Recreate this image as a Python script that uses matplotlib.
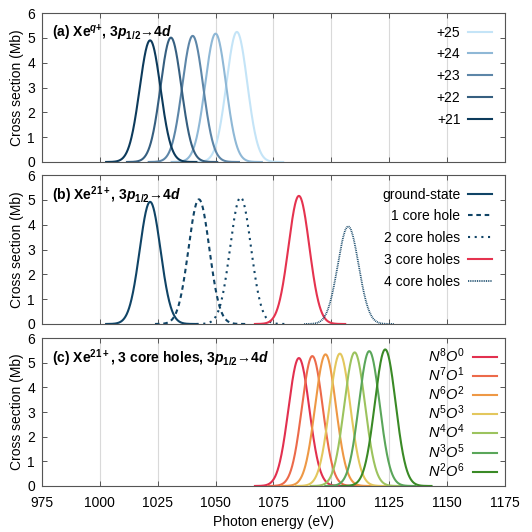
import numpy as np
import matplotlib
matplotlib.use("Agg")
import matplotlib.pyplot as plt

plt.rcParams['font.family'] = ['Liberation Sans', 'DejaVu Sans']
plt.rcParams['mathtext.fontset'] = 'custom'
plt.rcParams['mathtext.rm'] = 'Liberation Sans'
plt.rcParams['mathtext.it'] = 'Liberation Sans:italic'
plt.rcParams['mathtext.bf'] = 'Liberation Sans:bold'
plt.rcParams['mathtext.bfit'] = 'Liberation Sans:bold:italic'

# peak centre (eV), peak height (Mb)
charge_labels = ['+25', '+24', '+23', '+22', '+21']
charge_centers = [1059.2, 1050.0, 1040.1, 1030.7, 1021.7]
charge_heights = [5.24, 5.17, 5.08, 5.01, 4.90]

hole_labels = ['ground-state', '1 core hole', '2 core holes', '3 core holes', '4 core holes']
hole_centers = [1021.7, 1042.8, 1060.8, 1086.0, 1107.3]
hole_heights = [4.92, 5.02, 5.10, 5.16, 3.93]

conf_labels = [r'$N^8O^0$', r'$N^7O^1$', r'$N^6O^2$', r'$N^5O^3$',
               r'$N^4O^4$', r'$N^3O^5$', r'$N^2O^6$']
conf_centers = [1086.0, 1091.8, 1097.5, 1103.7, 1110.1, 1116.4, 1123.3]
conf_heights = [5.19, 5.27, 5.34, 5.37, 5.42, 5.47, 5.54]

sigma = 4.5  # line width (eV)

charge_colors = ['#c4e4f7', '#8fb8d6', '#5d86a8', '#365f80', '#0d3b5c']
navy = '#104466'
hole_colors = [navy, navy, navy, '#e5334f', navy]
hole_styles = ['-', (0, (2.2, 1.8)), (0, (1, 2.2)), '-', (0, (0.5, 0.5))]
hole_widths = [1.5, 1.5, 1.5, 1.5, 1.3]
conf_colors = ['#e2304f', '#ec6a4a', '#ee9845', '#e3c75d', '#9cc35e', '#5aa65a', '#3a8a26']


def profile(c, h):
    x = np.linspace(c - 19, c + 20, 300)
    return x, h * np.exp(-0.5 * ((x - c) / sigma) ** 2)


fig = plt.figure(figsize=(5.32, 5.32), dpi=100)
pos = [[0.079, 0.6955, 0.870, 0.280],
       [0.079, 0.391, 0.870, 0.280],
       [0.079, 0.0865, 0.870, 0.278]]
axes = [fig.add_axes(p) for p in pos]

arrow = '→'
titles = [r'(a) Xe$^{\mathbfit{q}\mathbf{+}}$, 3$\mathbfit{p}_{\mathbf{1/2}}$' + arrow + r'4$\mathbfit{d}$',
          r'(b) Xe$^{\mathbf{21+}}$, 3$\mathbfit{p}_{\mathbf{1/2}}$' + arrow + r'4$\mathbfit{d}$',
          r'(c) Xe$^{\mathbf{21+}}$, 3 core holes, 3$\mathbfit{p}_{\mathbf{1/2}}$' + arrow + r'4$\mathbfit{d}$']

ax = axes[0]
for lab, c, h, col in zip(charge_labels, charge_centers, charge_heights, charge_colors):
    x, y = profile(c, h)
    ax.plot(x, y, color=col, lw=1.5, label=lab)

ax = axes[1]
for lab, c, h, col, ls, lw in zip(hole_labels, hole_centers, hole_heights, hole_colors, hole_styles, hole_widths):
    x, y = profile(c, h)
    ax.plot(x, y, color=col, lw=lw, ls=ls, label=lab)

ax = axes[2]
for lab, c, h, col in zip(conf_labels, conf_centers, conf_heights, conf_colors):
    x, y = profile(c, h)
    ax.plot(x, y, color=col, lw=1.5, label=lab)

for i, ax in enumerate(axes):
    ax.set_xlim(975, 1175)
    ax.set_ylim(0, 6)
    ax.set_xticks(np.arange(975, 1176, 25))
    ax.set_yticks(np.arange(0, 7, 1))
    ax.grid(axis='x', color='#d9d9d9', lw=0.8)
    ax.set_axisbelow(True)
    ax.tick_params(direction='in', length=3.5, width=0.7, color='#555555',
                   top=True, right=True, labelsize=10)
    ax.tick_params(axis='y', pad=5)
    ax.tick_params(axis='x', pad=7)
    for s in ax.spines.values():
        s.set_color('#555555')
        s.set_linewidth(0.8)
    ax.set_ylabel('Cross section (Mb)', fontsize=10, labelpad=2)
    ax.text(0.022, 0.935, titles[i], transform=ax.transAxes, fontsize=10,
            fontweight='bold', va='top', ha='left')
    if i < 2:
        ax.tick_params(labelbottom=False)
        leg = ax.legend(loc='upper right', frameon=False, markerfirst=False,
                        fontsize=10, handlelength=1.75, labelspacing=0.56,
                        borderaxespad=0.5, handletextpad=0.55)
    else:
        leg = ax.legend(loc='upper right', frameon=False, markerfirst=False,
                        fontsize=10.5, handlelength=1.65, labelspacing=0.04,
                        borderaxespad=0.15, handletextpad=0.5)
    for t in leg.get_texts():
        t.set_ha('right')

axes[2].set_xlabel('Photon energy (eV)', fontsize=10, labelpad=4)

fig.savefig('out.png', dpi=100)
